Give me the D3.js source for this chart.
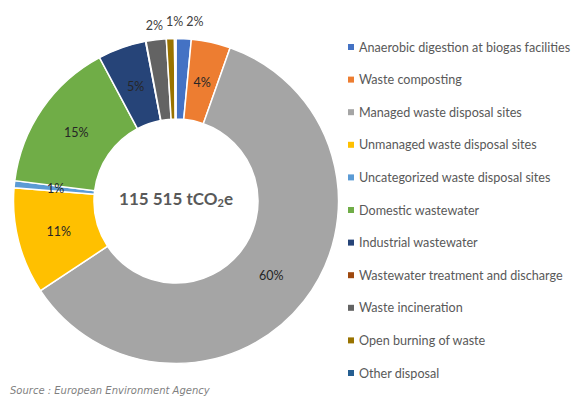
<!DOCTYPE html>
<html>
<head>
<meta charset="utf-8">
<script src="https://cdn.jsdelivr.net/npm/d3@7"></script>
<style>
  html, body { margin: 0; padding: 0; background: #fff; }
  svg { display: block; }
</style>
</head>
<body>
<svg id="chart" width="571" height="397"></svg>
<script>
// Waste-sector emissions by source (tCO2e)
const categories = [
  "Anaerobic digestion at biogas facilities",
  "Waste composting",
  "Managed waste disposal sites",
  "Unmanaged waste disposal sites",
  "Uncategorized waste disposal sites",
  "Domestic wastewater",
  "Industrial wastewater",
  "Wastewater treatment and discharge",
  "Waste incineration",
  "Open burning of waste",
  "Other disposal"
];
const emissions = [1740, 4505, 69648, 12245, 809, 17558, 5545, 58, 2310, 924, 173];
const colors = [
  "#4472C4", "#ED7D31", "#A5A5A5", "#FFC000", "#5B9BD5", "#70AD47",
  "#264478", "#9E480E", "#636363", "#997300", "#255E91"
];
const sourceNote = "Source : European Environment Agency";

const svg = d3.select("#chart");
const cx = 176, cy = 201;
const outerR = 162.5, innerR = 82;

const total = d3.sum(emissions);
const data = categories.map((name, i) => ({ name, value: emissions[i], color: colors[i] }));

const pie = d3.pie().sort(null).value(d => d.value);
const arcs = pie(data);
const arc = d3.arc().innerRadius(innerR).outerRadius(outerR);
const labelArc = d3.arc().innerRadius(121).outerRadius(121);
const outsideArc = d3.arc().innerRadius(177).outerRadius(177);

const g = svg.append("g").attr("transform", `translate(${cx},${cy})`);

g.selectAll("path.slice")
  .data(arcs)
  .join("path")
  .attr("class", "slice")
  .attr("d", arc)
  .attr("fill", d => d.data.color)
  .attr("stroke", "#fff")
  .attr("stroke-width", 1.5);

// Percentage labels: rounded share of total; slices under 0.5% get none
const pct = d => Math.round(d.data.value / total * 100);
const labelFont = "Lato, 'Open Sans', sans-serif";
const labelled = arcs.filter(d => pct(d) >= 1);

// Thin slices near the top are labelled outside the ring
const isOutside = d => {
  const mid = (d.startAngle + d.endAngle) / 2;
  const share = d.data.value / total;
  return share < 0.03 && (mid < Math.PI / 6 || mid > 2 * Math.PI - Math.PI / 6);
};

const inside = labelled.filter(d => !isOutside(d));
const outside = labelled.filter(isOutside);

g.selectAll("text.in")
  .data(inside)
  .join("text")
  .attr("class", "in")
  .attr("x", d => labelArc.centroid(d)[0])
  .attr("y", d => labelArc.centroid(d)[1])
  .attr("text-anchor", "middle")
  .attr("dominant-baseline", "central")
  .attr("font-family", labelFont)
  .attr("font-size", 12.5)
  .attr("fill", "#262626")
  .text(d => pct(d) + "%");

// Outside labels: place on a ring, then spread left-to-right so they don't collide
const outPos = outside.map(d => {
  const [x, y] = outsideArc.centroid(d);
  const mid = (d.startAngle + d.endAngle) / 2;
  return { d, x, y, key: mid > Math.PI ? mid - 2 * Math.PI : mid };
}).sort((a, b) => a.key - b.key);

const outText = g.selectAll("text.out")
  .data(outPos)
  .join("text")
  .attr("class", "out")
  .attr("text-anchor", "middle")
  .attr("dominant-baseline", "central")
  .attr("font-family", labelFont)
  .attr("font-size", 12.5)
  .attr("fill", "#404040")
  .text(p => pct(p.d) + "%");

outText.each(function(p) { p.w = this.getComputedTextLength(); });
for (let i = 1; i < outPos.length; i++) {
  const prev = outPos[i - 1], cur = outPos[i];
  const minX = prev.x + (prev.w + cur.w) / 2 + 3;
  if (cur.x < minX) { cur.x = minX; cur.y -= 3; }
}
outText.attr("x", p => p.x).attr("y", p => p.y);

// Total in the centre
const fmt = n => d3.format(",")(n).replace(/,/g, " ");
const centre = g.append("text")
  .attr("text-anchor", "middle")
  .attr("y", -3)
  .attr("dominant-baseline", "central")
  .attr("font-family", labelFont)
  .attr("font-weight", 700)
  .attr("font-size", 17)
  .attr("fill", "#595959");
centre.append("tspan").text(fmt(total) + " tCO");
centre.append("tspan").attr("font-size", 11).attr("dy", 4).text("2");
centre.append("tspan").attr("dy", -4).text("e");

// Legend
const legend = svg.append("g").attr("transform", "translate(348,47)");
const rowStep = 32.6;
const rows = legend.selectAll("g.row")
  .data(data)
  .join("g")
  .attr("class", "row")
  .attr("transform", (d, i) => `translate(0,${i * rowStep})`);
rows.append("rect")
  .attr("x", 0).attr("y", -3)
  .attr("width", 6).attr("height", 6)
  .attr("fill", d => d.color);
rows.append("text")
  .attr("x", 11)
  .attr("dominant-baseline", "central")
  .attr("font-family", labelFont)
  .attr("font-size", 12.6)
  .attr("fill", "#595959")
  .text(d => d.name);

// Source note
svg.append("text")
  .attr("x", 10)
  .attr("y", 394)
  .attr("font-family", "'DejaVu Sans', Verdana, sans-serif")
  .attr("font-style", "italic")
  .attr("font-size", 10)
  .attr("fill", "#7f7f7f")
  .text(sourceNote);
</script>
</body>
</html>
